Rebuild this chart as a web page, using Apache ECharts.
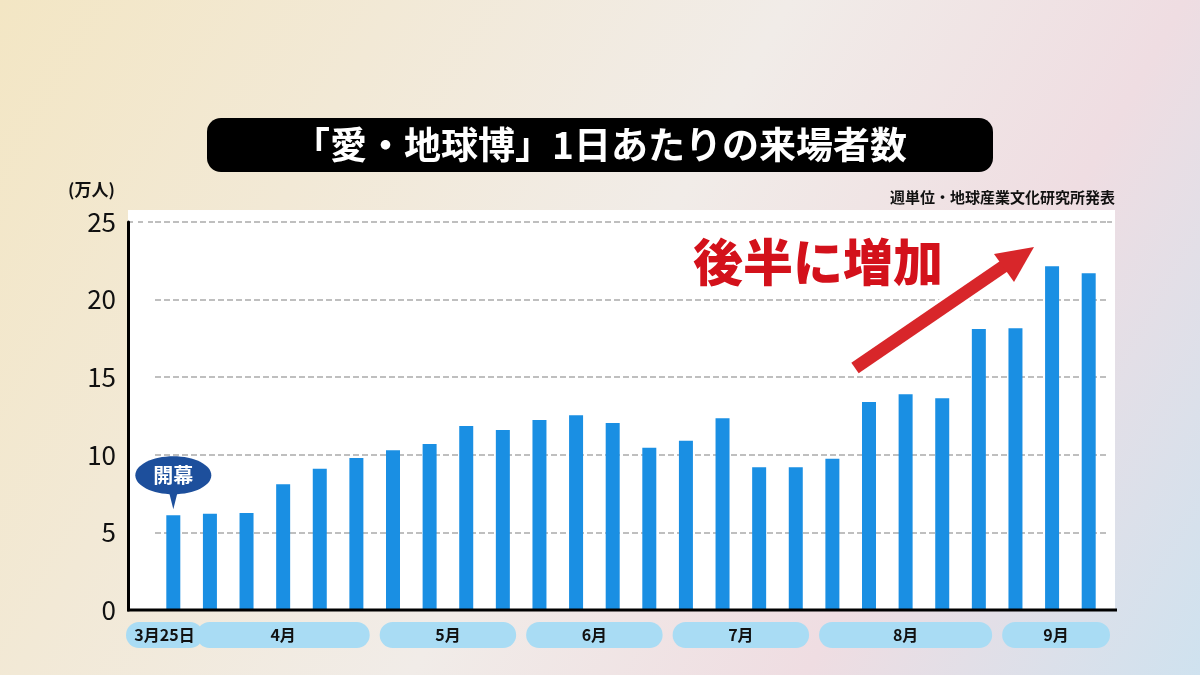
<!DOCTYPE html><html><head><meta charset="utf-8">
<script src="https://cdn.jsdelivr.net/npm/echarts@6/dist/echarts.min.js"></script>
<style>html,body{margin:0;padding:0}#c{width:1200px;height:675px}</style></head><body><div id="c"></div>
<script>
const categories = Array.from({length:26},(_,i)=>'W'+(i+1));
const visitors = [6.1,6.2,6.25,8.1,9.1,9.8,10.3,10.7,11.85,11.6,12.25,12.55,12.05,10.45,10.9,12.35,9.2,9.2,9.75,13.4,13.9,13.65,18.1,18.15,22.15,21.7];
const monthLabels = ['3月25日','4月','5月','6月','7月','8月','9月'];
const monthRanges = [[0,0],[1,5],[6,9],[10,13],[14,17],[18,22],[23,25]];
const yTicks = [0,5,10,15,20,25];
const chart = echarts.init(document.getElementById('c'));
const F = '"Noto Sans CJK JP","Noto Sans",sans-serif';
chart.setOption({
  backgroundColor:{type:'linear',x:0,y:0,x2:1,y2:1,colorStops:[{offset:0,color:'#f3e6c4'},{offset:0.5,color:'#f1ece8'},{offset:0.75,color:'#efdde2'},{offset:1,color:'#cfe2ef'}]},
  grid:{left:155,right:93,top:222,bottom:65},
  xAxis:{type:'category',data:categories,axisLabel:{show:false},axisTick:{show:false},
    axisLine:{show:false}},
  yAxis:{type:'value',min:0,max:25,interval:5,offset:27,
    axisLine:{show:true,lineStyle:{color:'#000',width:3}},
    axisLabel:{fontSize:26,color:'#111',fontFamily:F,margin:12},
    splitLine:{lineStyle:{color:'#aaa',type:'dashed',width:1.5}}},
  series:[{type:'bar',data:visitors,barWidth:14,itemStyle:{color:'#1a8fe3'},z:5}]
});
const g=[];
g.push({type:'rect',shape:{x:128,y:210,width:987,height:400},style:{fill:'#fff'},z:-10});
g.push({type:'line',shape:{x1:127,y1:610,x2:1117,y2:610},style:{stroke:'#000',lineWidth:3},z:10});
g.push({type:'line',shape:{x1:128,y1:222,x2:155,y2:222},style:{stroke:'#aaa',lineWidth:1.5,lineDash:[5,5]}});
g.push({type:'line',shape:{x1:1107,y1:222,x2:1115,y2:222},style:{stroke:'#aaa',lineWidth:1.5,lineDash:[5,5]}});
// title
g.push({type:'rect',shape:{x:207,y:118,width:786,height:54,r:14},style:{fill:'#000'}});
g.push({type:'text',x:600,y:145,style:{text:'「愛・地球博」1日あたりの来場者数',fill:'#fff',font:'bold 37px '+F,textAlign:'center',textVerticalAlign:'middle'}});
g.push({type:'text',x:1115,y:197,style:{text:'週単位・地球産業文化研究所発表',fill:'#111',font:'bold 15px '+F,textAlign:'right',textVerticalAlign:'middle'}});
g.push({type:'text',x:68,y:190,style:{text:'(万人)',fill:'#111',font:'bold 17px '+F,textVerticalAlign:'middle'}});
// month pills
const px=i=>chart.convertToPixel({xAxisIndex:0},i);
const half=(px(1)-px(0))/2;
monthRanges.forEach((r,i)=>{
  const x0=i==0?126:px(r[0])-half+5, x1=i==0?203:(i==monthRanges.length-1?1110:px(r[1])+half-5);
  g.push({type:'rect',shape:{x:x0,y:622,width:x1-x0,height:26,r:13},style:{fill:'#a9dcf4'}});
  g.push({type:'text',x:(x0+x1)/2,y:635,style:{text:monthLabels[i],fill:'#111',font:'bold 16px '+F,textAlign:'center',textVerticalAlign:'middle'}});
});
// 開幕 bubble
const p0=chart.convertToPixel({xAxisIndex:0,yAxisIndex:0},[0,visitors[0]]);
g.push({type:'polygon',shape:{points:[[p0[0]-6,p0[1]-30],[p0[0]+6,p0[1]-30],[p0[0],p0[1]-6]]},style:{fill:'#1d4f9c'}});
g.push({type:'ellipse',shape:{cx:p0[0],cy:p0[1]-40,rx:38,ry:19},style:{fill:'#1d4f9c'}});
g.push({type:'text',x:p0[0],y:p0[1]-40,style:{text:'開幕',fill:'#fff',font:'bold 20px '+F,textAlign:'center',textVerticalAlign:'middle'}});
// arrow
g.push({type:'line',shape:{x1:855,y1:368,x2:1010,y2:262},style:{stroke:'#fff',lineWidth:18}});
g.push({type:'polygon',shape:{points:[[1034,247],[994,254],[1014,282]]},style:{fill:'#fff',stroke:'#fff',lineWidth:4}});
g.push({type:'line',shape:{x1:855,y1:368,x2:1010,y2:262},style:{stroke:'#d8262a',lineWidth:13}});
g.push({type:'polygon',shape:{points:[[1034,247],[994,254],[1014,282]]},style:{fill:'#d8262a'}});
g.push({type:'text',x:818,y:262,style:{text:'後半に増加',fill:'#d3111b',font:'900 50px '+F,textAlign:'center',textVerticalAlign:'middle',stroke:'#fff',lineWidth:6}});
chart.setOption({graphic:g});
</script></body></html>
